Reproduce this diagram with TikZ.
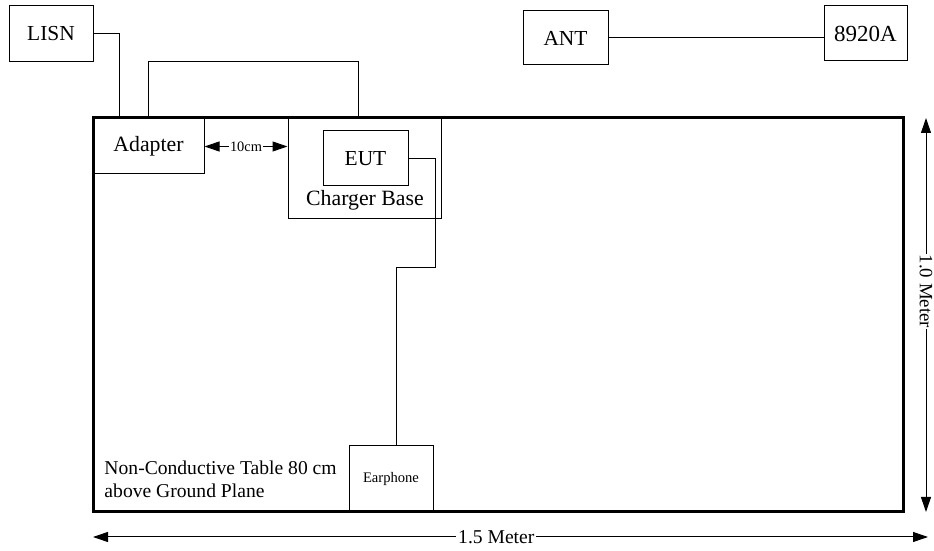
\documentclass[tikz,border=0pt]{standalone}
\usepackage{fontspec}
\setmainfont{Liberation Serif}
\usetikzlibrary{arrows.meta,calc,positioning}

\begin{document}
\begin{tikzpicture}[x=0.5pt,y=-0.5pt,line width=0.5pt,
  font=\fontsize{10.7}{12}\selectfont,
  unit/.style={draw,inner sep=0pt},
  wire/.style={draw,line width=0.5pt},
  dim/.style={{Triangle[length=7.5pt,width=5pt]}-{Triangle[length=7.5pt,width=5pt]},line width=0.5pt}]
  \useasboundingbox (0,0) rectangle (934,551);
  % table and the units on it
  \node[draw,line width=1.5pt,minimum width=405pt,minimum height=197pt] (table) at (498,315) {};
  \node[unit,minimum width=42pt,minimum height=28pt] (lisn) at (51,34) {LISN};
  \node[unit,minimum width=42.5pt,minimum height=27pt] (ant) at (565.5,38) {ANT};
  \node[unit,minimum width=41.5pt,minimum height=27.5pt,font=\fontsize{11.5}{13}\selectfont] (hp) at (865.5,33.5) {8920A};
  \node[unit,minimum width=55.5pt,minimum height=27.5pt,font=\fontsize{10.9}{12}\selectfont] (adapter) at (148.5,146.5) {Adapter};
  \node[unit,minimum width=76.5pt,minimum height=50.5pt] (base) at (364.5,168.5) {};
  \node[font=\fontsize{10.9}{12}\selectfont] (baselbl) at (365,200) {Charger Base};
  \node[unit,minimum width=42.5pt,minimum height=27.5pt] (eut) at (365.5,158.5) {EUT};
  \node[unit,minimum width=42pt,minimum height=32.5pt,font=\fontsize{7.3}{8}\selectfont] (earphone) at (391,478.5) {Earphone};
  \node[align=left,anchor=north west,inner sep=0pt,font=\fontsize{9.8}{11.5}\selectfont] (tbllbl) at (104,460)
    {Non-Conductive Table 80 cm\\above Ground Plane};

  % cables
  \coordinate (lisnin) at (119,118);
  \coordinate (bridge) at (358,62);
  \coordinate (bend) at (435,268);
  \coordinate (bend2) at (396,268);
  \draw (lisn.east) -| (lisnin);
  \draw (adapter.north) |- (bridge) -- (bridge |- base.north);
  \draw (ant.east) -- (ant.east -| hp.west);
  \draw (eut.east) -| (bend) -- (bend2) -- (bend2 |- earphone.north);

  % distances
  \draw[{Triangle[length=7.5pt,width=5pt]}-{Triangle[length=7.5pt,width=5pt]}] (adapter.east) -- (adapter.east -| base.west)
    node[midway,fill=white,inner sep=0.5pt,font=\fontsize{7.2}{8}\selectfont] (gap) {10cm};
  \coordinate (dimtop) at (926,118);
  \coordinate (dimbot) at (926,512);
  \coordinate (dimleft) at (93,537);
  \coordinate (dimright) at (928,537);
  \draw[dim] (dimtop) -- (dimbot)
    node[pos=0.44,fill=white,inner sep=0.5pt,rotate=-90,font=\fontsize{9.4}{10}\selectfont] (hlbl) {1.0 Meter};
  \draw[dim] (dimleft) -- (dimright)
    node[pos=0.483,fill=white,inner sep=1pt,font=\fontsize{9.8}{11}\selectfont] (wlbl) {1.5 Meter};
\end{tikzpicture}
\end{document}
